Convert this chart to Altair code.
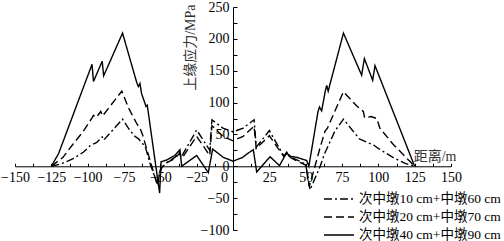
import altair as alt
import pandas as pd

names = ["次中墩10 cm+中墩60 cm", "次中墩20 cm+中墩70 cm", "次中墩40 cm+中墩90 cm"]

# dash-dot series
x1 = [-125, -118, -110, -103, -98, -94, -90, -89, -76, -72, -68, -65, -62, -60, -57, -52.5,
      -49, -46, -40, -37, -35, -25, -16, -14.5, -7, 0, 7, 14.5, 16, 25, 35, 37, 40, 46, 50,
      53, 60, 63, 66.7, 70, 76, 82, 87, 90, 95, 97, 100, 110, 118, 125]
y1 = [0, 4, 12, 22, 33, 37, 46, 41, 74, 60, 48, 43, 35, 28, 4, -25,
      -2, 5, 14, 22, 17, 57, 25, 73, 60, 54, 60, 73, 30, 56, 16, 22, 14, 8, 3,
      -37, 0, 20, 38, 55, 74, 57, 43, 40, 35, 33, 28, 14, 5, 0]

# dashed series
x2 = [-125, -117, -110, -103, -97, -96, -94, -91, -89.7, -76.5, -72, -66, -64, -62, -60, -52,
      -50, -47, -40, -37, -35, -25, -16, -14.5, -7, 0, 7, 14.5, 16, 25, 35, 37, 40, 46, 50,
      52.5, 56.4, 60, 63.3, 65, 76, 85, 89.7, 90.6, 95, 99, 101, 110, 125]
y2 = [0, 14, 35, 55, 76, 80, 77, 86, 79, 118, 92, 66, 60, 48, 32, -30,
      -5, 4, 12, 20, 13, 47, 17, 64, 47, 40, 47, 63, 28, 48, 15, 20, 13, 6, 2,
      -32, 0, 30, 55, 60, 117, 95, 86, 76, 78, 75, 60, 35, 0]

# solid series
x3 = [-125, -120, -97, -96, -90, -89, -76, -66.3, -65.1, -64, -62.9, -60.6, -59.9, -59, -50.5,
      -49.5, -45.5, -40, -36.5, -35.3, -25, -17, -14, -10, -6.7, 0, 6.7, 10, 14, 16.3, 25.5,
      32, 37, 38.5, 44, 50.7, 52.2, 58.5, 59.5, 61, 63.5, 64.5, 65.5, 76, 88.5, 90.4, 96.1,
      97.7, 125]
y3 = [0, 20, 160, 133, 165, 142, 209, 132, 125, 130, 114, 99, 94, 96, -42,
      7, 10, 17, 26, 0, 17, -10, 27, 20, 14, 8, 14, 20, 26, -9, 15,
      1, 22, 16, 14, 9, 0, 86, 93, 87, 118, 127, 118, 209, 143, 169, 135,
      158, 0]

x_ticks = [-150, -137.5, -125, -112.5, -100, -87.5, -75, -62.5, -50, -37.5, -25, -12.5, 0,
           12.5, 25, 37.5, 50, 62.5, 75, 87.5, 100, 112.5, 125, 137.5, 150]
y_ticks = [-100, -75, -50, -25, 0, 25, 50, 75, 100, 125, 150, 175, 200, 225, 250]

rows = []
for name, xs, ys in zip(names, [x1, x2, x3], [y1, y2, y3]):
    for i, (a, b) in enumerate(zip(xs, ys)):
        rows.append({"series": name, "x": a, "y": b, "order": i})
df = pd.DataFrame(rows)

W, H = 436, 223
LAB = "Liberation Serif, Times New Roman, serif"
TIT = "Liberation Serif, Noto Sans CJK SC"

chart = alt.Chart(df).mark_line(strokeWidth=1.4, color="black").encode(
    x=alt.X("x:Q", scale=alt.Scale(domain=[-150, 150], nice=False, zero=False),
            axis=alt.Axis(orient="bottom", offset=-H * 100 / 350, values=x_ticks,
                          labelExpr="datum.value % 25 == 0 ? format(datum.value, 'd') : ''",
                          tickSize=alt.ExprRef(expr="-3"), labelPadding=7,
                          labelFlush=False, labelOverlap=False,
                          labelOffset={"condition": {"test": "datum.value == 0", "value": -9}, "value": 0},
                          title="距离/m", titleX=441, titleY=-6, titleAlign="right",
                          titleBaseline="alphabetic", titleAnchor="end")),
    y=alt.Y("y:Q", scale=alt.Scale(domain=[-100, 250], nice=False, zero=False),
            axis=alt.Axis(orient="left", offset=-W / 2, values=y_ticks,
                          labelExpr="datum.value % 50 == 0 ? format(datum.value, 'd') : ''",
                          tickSize=alt.ExprRef(expr="-4"), labelPadding=8,
                          labelFlush=False, labelOverlap=False,
                          title="上缘应力/MPa", titleX=-43, titleY=-3, titleAngle=270,
                          titleAlign="right", titleBaseline="middle", titleAnchor="end")),
    strokeDash=alt.StrokeDash("series:N",
                              scale=alt.Scale(domain=names, range=[[8, 3, 2, 3], [8, 4], [1, 0]]),
                              legend=alt.Legend(orient="none", legendX=313, legendY=181, title=None,
                                                symbolType="M-1.5,0H1.5", symbolSize=400,
                                                symbolStrokeWidth=1.5, symbolStrokeColor="black",
                                                labelFont=TIT, labelFontSize=13.5, labelColor="black",
                                                labelOffset=9, rowPadding=-0.5, padding=0)),
    order=alt.Order("order:Q"),
).properties(
    width=W, height=H,
    padding={"left": 15, "top": 7, "right": 53, "bottom": 11},
    autosize="none",
).configure_view(stroke=None).configure_axis(
    domainColor="black", tickColor="black", labelColor="black", titleColor="#333333",
    labelFont=LAB, labelFontSize=14, titleFont=TIT, titleFontSize=14, titleFontWeight="normal",
    domainWidth=1, tickWidth=1, grid=False,
)

chart.save("out.html", embed_options={"renderer": "svg", "actions": False})
